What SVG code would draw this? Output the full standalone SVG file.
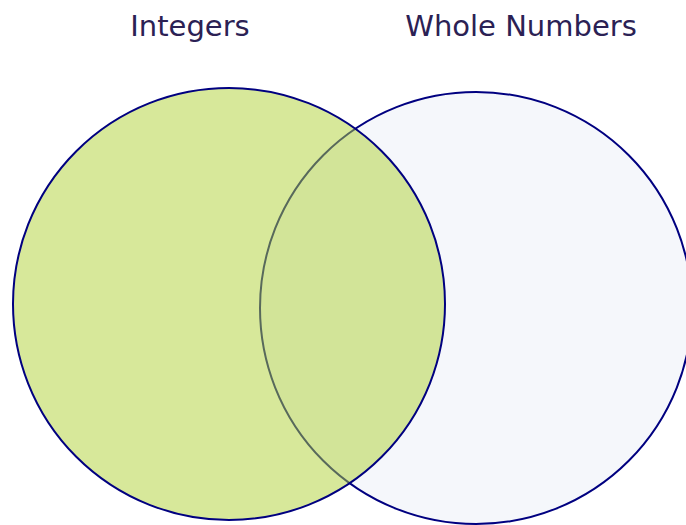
<svg xmlns="http://www.w3.org/2000/svg" width="686" height="525" viewBox="0 0 686 525">
<style>
.lbl{font-family:"DejaVu Sans",Verdana,sans-serif;font-size:29px;fill:#2b2154;text-anchor:middle}
.c{stroke:#000080;stroke-width:2}
</style>
<rect width="686" height="525" fill="#ffffff"/>
<g id="whole-numbers">
<circle class="c" cx="476" cy="308" r="216" fill="#f5f7fb"/>
<text class="lbl" x="521" y="36">Whole Numbers</text>
</g>
<g id="integers">
<circle class="c" cx="229" cy="304" r="216" fill="#afd135" fill-opacity="0.5"/>
<text class="lbl" x="190" y="36">Integers</text>
</g>
<g id="connectors"></g>
</svg>
